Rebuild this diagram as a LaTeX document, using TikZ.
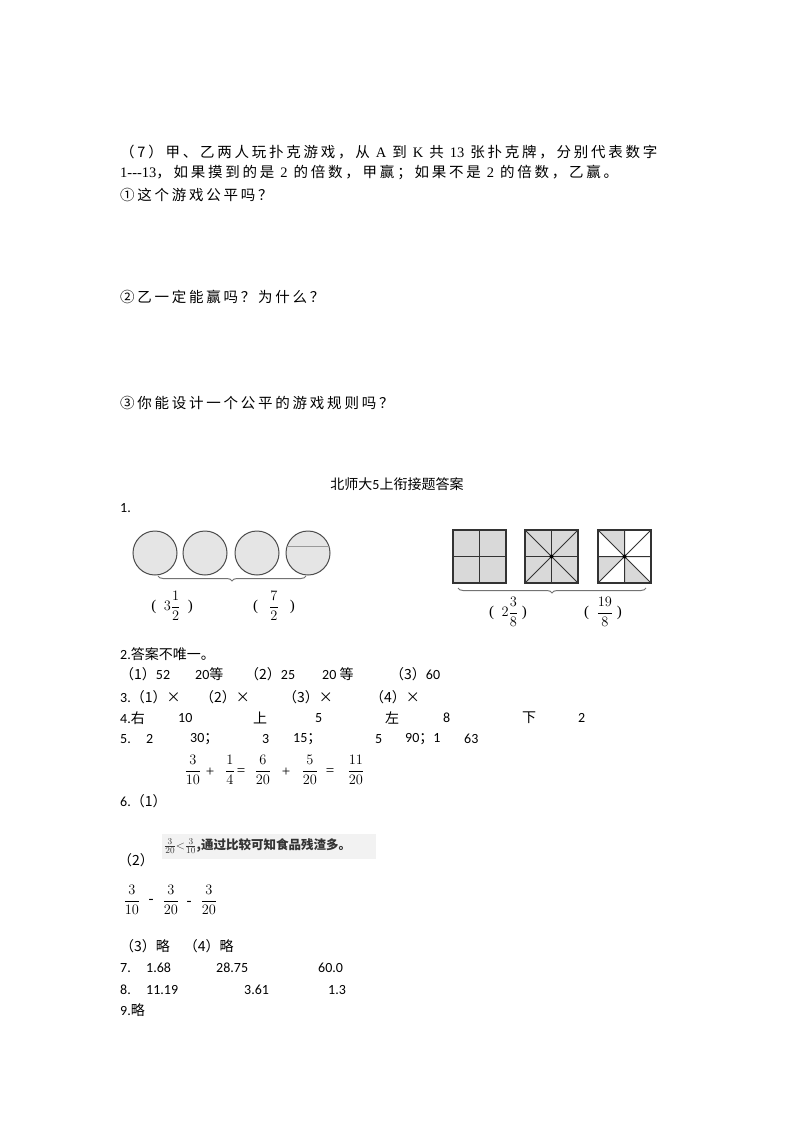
\documentclass[tikz,border=0pt]{standalone}
\usepackage{fontspec}
\setmainfont{Carlito}
\newfontfamily\cjk{Noto Sans CJK SC}
\newfontfamily\cjkw[LetterSpace=19]{Noto Sans CJK SC}
\newfontfamily\serifl{Liberation Serif}
\usetikzlibrary{decorations.pathreplacing}
\begin{document}
\begin{tikzpicture}[x=1pt,y=-1pt,
  t/.style={anchor=west,inner sep=0pt,font=\fontsize{14}{16}\selectfont\cjk},
  tw/.style={anchor=west,inner sep=0pt,font=\fontsize{14.5}{16}\selectfont\cjkw},
  ts/.style={anchor=west,inner sep=0pt,font=\fontsize{14}{16}\selectfont},
  fr/.style={inner sep=0pt,font=\fontsize{15}{17}\selectfont\serifl},
  circ/.style={draw=black!70,fill=black!10,line width=1pt},
  sq/.style={draw=black!80,fill=black!15,line width=1.2pt},
  br/.style={draw=black!55,line width=1pt,decorate,decoration={brace,mirror,amplitude=5pt}}]
\useasboundingbox (0,0) rectangle (800,1132);
\node[tw] (l1) at (120,152) {（7）甲、乙两人玩扑克游戏，从 {\serifl A} 到 {\serifl K} 共 {\serifl 13} 张扑克牌，分别代表数字};
\node[tw] (l2) at (120,173) {{\serifl 1---13}，如果摸到的是 {\serifl 2} 的倍数，甲赢；如果不是 {\serifl 2} 的倍数，乙赢。};
\node[tw] (l3) at (120,195) {①这个游戏公平吗？};
\node[tw] (l4) at (120,297) {②乙一定能赢吗？为什么？};
\node[tw] (l5) at (120,403) {③你能设计一个公平的游戏规则吗？};
\node[t,anchor=center] (ti) at (397,484) {北师大{\normalfont 5}上衔接题答案};
\node[ts] (n1) at (120,508) {1.};
% circles
\foreach \i/\x in {1/155,2/205,3/257,4/308}{\node[circ,circle,minimum size=44pt,inner sep=0pt] (c\i) at (\x,553) {};}
\draw[black!40,line width=0.8pt] (286.5,546) -- (329.5,546);
\draw[br] (158,576) -- (306,576);
\node[fr] (f1) at (172,606) {(\ \ $\displaystyle 3\frac{1}{2}$\ \ )};
\node[fr] (f2) at (274,606) {(\ \ \ $\displaystyle\frac{7}{2}$\ \ \ )};
% squares
\foreach \i/\x in {1/453,2/525,3/598}{\draw[sq] (\x,530) rectangle ++(53,53);
  \draw[black!80,line width=1pt] (\x+26.5,530) -- ++(0,53) (\x,556.5) -- ++(53,0);}
\draw[black!80,line width=1pt] (525,530) -- (578,583) (525,583) -- (578,530);
\fill[white] (598,530) -- (624.5,556.5) -- (598,556.5) -- cycle;
\fill[white] (624.5,530) -- (651,530) -- (624.5,556.5) -- cycle;
\fill[white] (651,530) -- (651,556.5) -- (624.5,556.5) -- cycle;
\fill[white] (598,583) -- (624.5,556.5) -- (624.5,583) -- cycle;
\fill[white] (651,583) -- (624.5,556.5) -- (651,556.5) -- cycle;
\draw[sq,fill=none] (598,530) rectangle ++(53,53);
\draw[black!80,line width=1pt] (624.5,530) -- ++(0,53) (598,556.5) -- ++(53,0) (598,530) -- (651,583) (598,583) -- (651,530);
\fill (551.5,556.5) circle (2pt) (624.5,556.5) circle (2pt);
\draw[br] (458,588) -- (646,588);
\node[fr] (f3) at (508,612) {(\ \ $\displaystyle 2\frac{3}{8}$\ )};
\node[fr] (f4) at (603,612) {(\ \ $\displaystyle\frac{19}{8}$\ )};
% answers
\node[t] (a2) at (120,654) {{\normalfont 2.}答案不唯一。};
\node[t] (a21) at (120,674) {（1）{\normalfont 52}};
\node[t] (a22) at (195,674) {{\normalfont 20}等};
\node[t] (a23) at (245,674) {（2）{\normalfont 25}};
\node[t] (a24) at (322,674) {{\normalfont 20} 等};
\node[t] (a25) at (390,674) {（3）{\normalfont 60}};
\node[t] (a3) at (120,697) {{\normalfont 3.}（1）×};
\node[t] (a32) at (200,697) {（2）×};
\node[t] (a33) at (283,697) {（3）×};
\node[t] (a34) at (370,697) {（4）×};
\foreach \s/\x [count=\k] in {{{\normalfont 4.}右}/120,{\normalfont 10}/178,上/253,{\normalfont 5}/315,左/385,{\normalfont 8}/443,下/522,{\normalfont 2}/578}
  \node[t] (a4\k) at (\x,718) {\s};
\foreach \s/\x [count=\k] in {{\normalfont 5.}/120,{\normalfont 2}/146,{{\normalfont 30}；}/190,{\normalfont 3}/262,{{\normalfont 15}；}/293,{\normalfont 5}/375,{{\normalfont 90}；{\normalfont 1}}/405,{\normalfont 63}/464}
  \node[t] (a5\k) at (\x,739) {\s};
\node[fr] (e1) at (193,770) {$\displaystyle\frac{3}{10}$};
\node[fr] (e2) at (210,772) {+};
\node[fr] (e3) at (230,770) {$\displaystyle\frac{1}{4}$};
\node[fr] (e4) at (241,772) {=};
\node[fr] (e5) at (263,770) {$\displaystyle\frac{6}{20}$};
\node[fr] (e6) at (286,772) {+};
\node[fr] (e7) at (310,770) {$\displaystyle\frac{5}{20}$};
\node[fr] (e8) at (330,772) {=};
\node[fr] (e9) at (356,770) {$\displaystyle\frac{11}{20}$};
\node[ts] (a6) at (120,801) {6.{\cjk（1）}};
\node[t] (a62) at (118,860) {（2）};
\fill[black!5] (162,834) rectangle (376,859);
\node[anchor=west,inner sep=0pt,font=\fontsize{12.5}{14}\selectfont\bfseries\cjk,text=black!80] (im) at (164,846) {\serifl$\frac{3}{20}{<}\frac{3}{10}$\cjk,通过比较可知食品残渣多。};
\node[fr] (g1) at (132,900) {$\displaystyle\frac{3}{10}$};
\node[fr] (g2) at (151,901) {-};
\node[fr] (g3) at (171,900) {$\displaystyle\frac{3}{20}$};
\node[fr] (g4) at (189,903) {-};
\node[fr] (g5) at (209,900) {$\displaystyle\frac{3}{20}$};
\node[t] (a63) at (120,946) {（3）略\quad（4）略};
\foreach \s/\x [count=\k] in {7./120,1.68/146,28.75/216,60.0/318}
  \node[ts] (a7\k) at (\x,968) {\s};
\foreach \s/\x [count=\k] in {8./120,11.19/146,3.61/244,1.3/328}
  \node[ts] (a8\k) at (\x,990) {\s};
\node[t] (a9) at (120,1010) {{\normalfont 9.}略};
\end{tikzpicture}
\end{document}
